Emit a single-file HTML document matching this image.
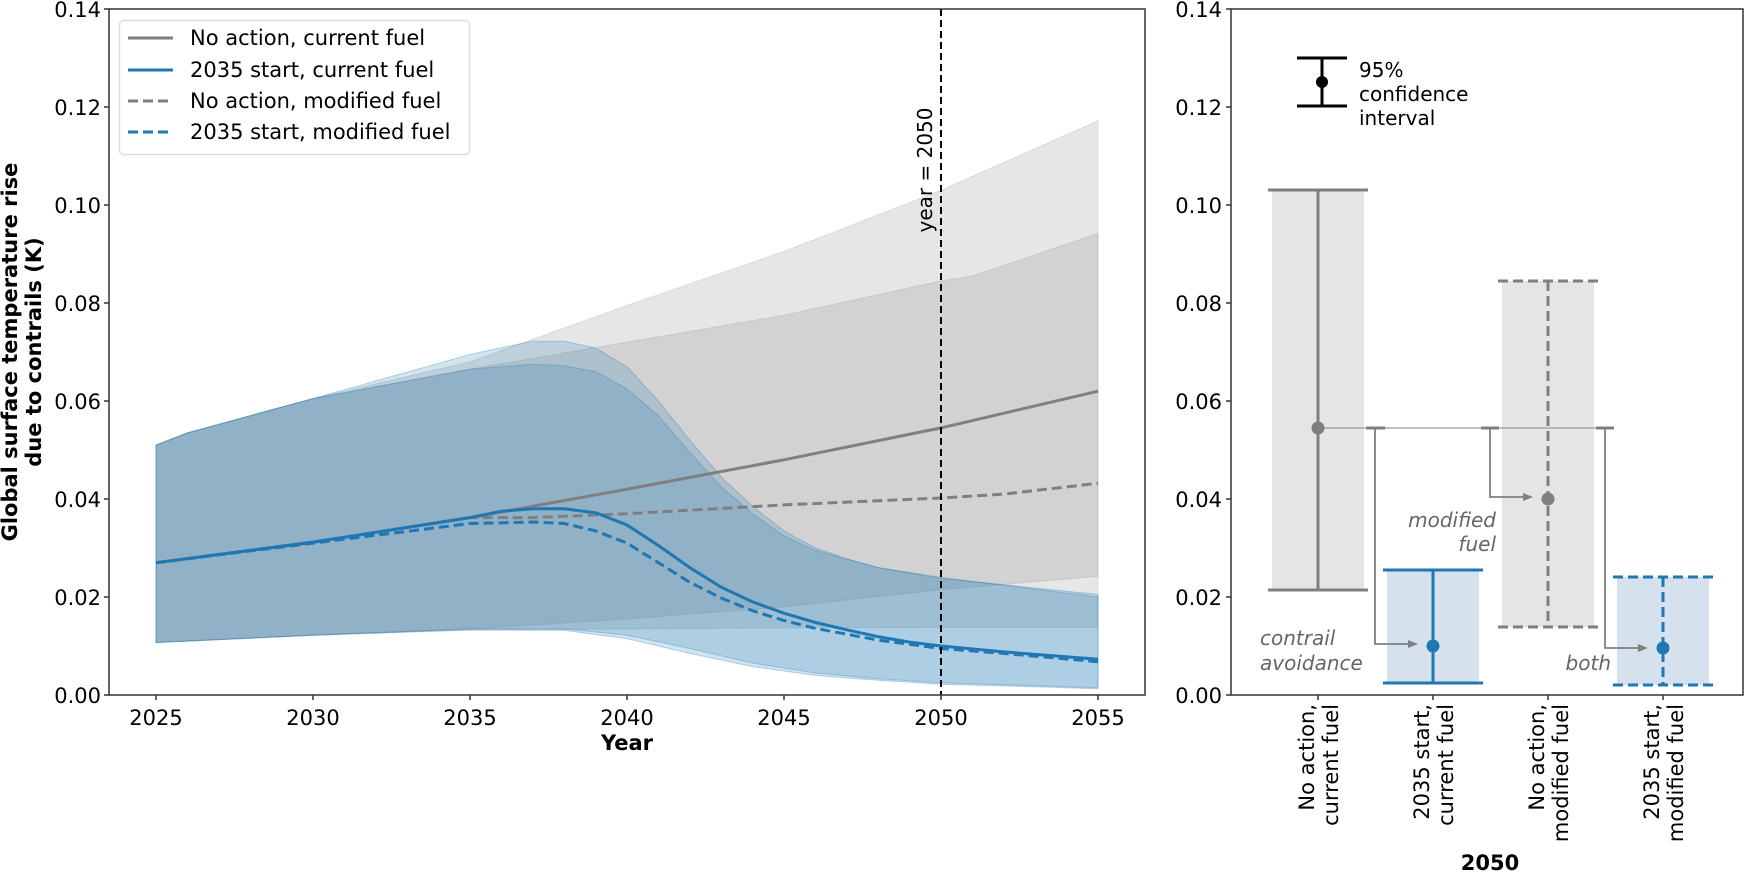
<!DOCTYPE html>
<html><head><meta charset="utf-8"><style>
html,body{margin:0;padding:0;background:#fff;}
svg{display:block;font-family:"DejaVu Sans","Liberation Sans",sans-serif;}
</style></head><body>
<svg id="s" width="1751" height="876" viewBox="0 0 1751 876" xmlns="http://www.w3.org/2000/svg">
<g id="fills"></g>
<g id="lines"></g>
<line x1="941" y1="9" x2="941" y2="695" stroke="#000" stroke-width="2" stroke-dasharray="7,4"/>
<text transform="translate(932,170) rotate(-90)" text-anchor="middle" font-size="20">year = 2050</text>
<rect x="109" y="9" width="1036" height="686" fill="none" stroke="#333" stroke-width="1.5"/>
<g id="lticks" stroke="#333" stroke-width="1.5"></g>
<g font-size="21" text-anchor="end">
<text x="101" y="17">0.14</text><text x="101" y="115">0.12</text><text x="101" y="213">0.10</text><text x="101" y="311">0.08</text><text x="101" y="409">0.06</text><text x="101" y="507">0.04</text><text x="101" y="605">0.02</text><text x="101" y="703">0.00</text>
</g>
<g font-size="21" text-anchor="middle">
<text x="156" y="725">2025</text><text x="313" y="725">2030</text><text x="470" y="725">2035</text><text x="627" y="725">2040</text><text x="784" y="725">2045</text><text x="941" y="725">2050</text><text x="1098" y="725">2055</text>
</g>
<text x="627" y="750" font-size="21" font-weight="bold" text-anchor="middle">Year</text>
<g font-size="21" font-weight="bold" text-anchor="middle">
<text transform="translate(17,352) rotate(-90)">Global surface temperature rise</text>
<text transform="translate(41,352) rotate(-90)">due to contrails (K)</text>
</g>
<!-- legend -->
<rect x="119.5" y="20.5" width="350" height="134" rx="4" fill="#fff" fill-opacity="0.8" stroke="#ddd" stroke-width="1.5"/>
<line x1="128" y1="38" x2="173" y2="38" stroke="#7f7f7f" stroke-width="3"/>
<line x1="128" y1="70" x2="173" y2="70" stroke="#1f77b4" stroke-width="3"/>
<line x1="128" y1="101" x2="173" y2="101" stroke="#7f7f7f" stroke-width="3" stroke-dasharray="10,5"/>
<line x1="128" y1="132" x2="173" y2="132" stroke="#1f77b4" stroke-width="3" stroke-dasharray="10,5"/>
<g font-size="21"><text x="190" y="45">No action, current fuel</text><text x="190" y="77">2035 start, current fuel</text><text x="190" y="108">No action, modified fuel</text><text x="190" y="139">2035 start, modified fuel</text></g>

<!-- right plot -->
<rect x="1272" y="190" width="92" height="400" fill="#e5e5e5"/>
<rect x="1387" y="570" width="92" height="113" fill="#d5e2ee"/>
<rect x="1502" y="281" width="92" height="346" fill="#e5e5e5"/>
<rect x="1617" y="577" width="92" height="108" fill="#d5e2ee"/>
<line x1="1318" y1="428" x2="1614" y2="428" stroke="#999" stroke-width="1.3"/>
<g stroke="#7f7f7f" stroke-width="3"><line x1="1318" y1="190" x2="1318" y2="590"/><line x1="1268" y1="190" x2="1368" y2="190"/><line x1="1268" y1="590" x2="1368" y2="590"/></g>
<circle cx="1318" cy="428" r="6.5" fill="#7f7f7f"/>
<g stroke="#1f77b4" stroke-width="3"><line x1="1433" y1="570" x2="1433" y2="683"/><line x1="1383" y1="570" x2="1483" y2="570"/><line x1="1383" y1="683" x2="1483" y2="683"/></g>
<circle cx="1433" cy="646" r="6.5" fill="#1f77b4"/>
<g stroke="#7f7f7f" stroke-width="3" stroke-dasharray="10,5"><line x1="1548" y1="281" x2="1548" y2="627"/><line x1="1498" y1="281" x2="1598" y2="281"/><line x1="1498" y1="627" x2="1598" y2="627"/></g>
<circle cx="1548" cy="499" r="6.5" fill="#7f7f7f"/>
<g stroke="#1f77b4" stroke-width="3" stroke-dasharray="10,5"><line x1="1663" y1="577" x2="1663" y2="685"/><line x1="1613" y1="577" x2="1713" y2="577"/><line x1="1613" y1="685" x2="1713" y2="685"/></g>
<circle cx="1663" cy="648" r="6.5" fill="#1f77b4"/>
<!-- brackets -->
<g stroke="#7f7f7f" fill="none" stroke-width="1.8">
<line x1="1366" y1="428" x2="1385" y2="428" stroke-width="3"/>
<polyline points="1375,428 1375,644 1415,644"/>
<line x1="1481" y1="428" x2="1499" y2="428" stroke-width="3"/>
<polyline points="1490,428 1490,497 1530,497"/>
<line x1="1596" y1="428" x2="1614" y2="428" stroke-width="3"/>
<polyline points="1605,428 1605,648 1645,648"/>
</g>
<g fill="#7f7f7f"><path d="M1418,644 l-10,-4 v8z"/><path d="M1533,497 l-10,-4 v8z"/><path d="M1648,648 l-10,-4 v8z"/></g>
<g font-size="20" font-style="italic" fill="#666">
<text x="1496" y="527" text-anchor="end">modified</text><text x="1496" y="551" text-anchor="end">fuel</text>
<text x="1260" y="645">contrail</text><text x="1260" y="670">avoidance</text>
<text x="1611" y="670" text-anchor="end">both</text>
</g>
<!-- ci legend -->
<g stroke="#000" stroke-width="3"><line x1="1322" y1="58" x2="1322" y2="106"/><line x1="1297" y1="58" x2="1347" y2="58"/><line x1="1297" y1="106" x2="1347" y2="106"/></g>
<circle cx="1322" cy="82" r="6" fill="#000"/>
<g font-size="20"><text x="1359" y="77">95%</text><text x="1359" y="101">confidence</text><text x="1359" y="125">interval</text></g>
<rect x="1231" y="9" width="512" height="686" fill="none" stroke="#333" stroke-width="1.5"/>
<g id="rticks" stroke="#333" stroke-width="1.5"></g>
<g font-size="21" text-anchor="end">
<text x="1222" y="17">0.14</text><text x="1222" y="115">0.12</text><text x="1222" y="213">0.10</text><text x="1222" y="311">0.08</text><text x="1222" y="409">0.06</text><text x="1222" y="507">0.04</text><text x="1222" y="605">0.02</text><text x="1222" y="703">0.00</text>
</g>
<g font-size="21" text-anchor="end">
<text transform="translate(1318,704) rotate(-90)"><tspan x="0" y="-4">No action,</tspan><tspan x="0" y="20">current fuel</tspan></text>
<text transform="translate(1433,704) rotate(-90)"><tspan x="0" y="-4">2035 start,</tspan><tspan x="0" y="20">current fuel</tspan></text>
<text transform="translate(1548,704) rotate(-90)"><tspan x="0" y="-4">No action,</tspan><tspan x="0" y="20">modified fuel</tspan></text>
<text transform="translate(1663,704) rotate(-90)"><tspan x="0" y="-4">2035 start,</tspan><tspan x="0" y="20">modified fuel</tspan></text>
</g>
<text x="1490" y="870" font-size="21" font-weight="bold" text-anchor="middle">2050</text>
</svg>
<script>
(function(){
var NS="http://www.w3.org/2000/svg";
function X(y){return 156+(y-2025)*31.4;}
function Y(v){return 695-v*4900;}
function interp(pts){var out=[];for(var i=0;i<pts.length-1;i++){var a=pts[i],b=pts[i+1];for(var t=a[0];t<b[0];t+=0.5){var f=(t-a[0])/(b[0]-a[0]);out.push([t,a[1]+f*(b[1]-a[1])]);}}out.push(pts[pts.length-1]);return out;}
function path(pts){return pts.map(function(p,i){return (i?"L":"M")+X(p[0]).toFixed(1)+","+Y(p[1]).toFixed(1);}).join("");}
function band(up,lo){var u=interp(up),l=interp(lo).reverse();return path(u)+l.map(function(p){return "L"+X(p[0]).toFixed(1)+","+Y(p[1]).toFixed(1);}).join("")+"Z";}
function add(g,d,attrs){var e=document.createElementNS(NS,"path");e.setAttribute("d",d);for(var k in attrs)e.setAttribute(k,attrs[k]);document.getElementById(g).appendChild(e);}
var gU=[[2025,0.051],[2026,0.0535],[2030,0.0605],[2035,0.068],[2040,0.0795],[2045,0.0905],[2050,0.103],[2055,0.1172]];
var gL=[[2025,0.0107],[2030,0.0122],[2035,0.0135],[2040,0.0155],[2045,0.018],[2050,0.0215],[2055,0.0242]];
var gmU=[[2025,0.051],[2026,0.0535],[2030,0.0605],[2035,0.0665],[2040,0.072],[2045,0.0775],[2050,0.0845],[2051,0.0855],[2055,0.0942]];
var gmL=[[2025,0.0107],[2030,0.0122],[2035,0.0132],[2040,0.0135],[2045,0.0137],[2050,0.0138],[2055,0.0138]];
var bU=[[2025,0.051],[2026,0.0535],[2030,0.0605],[2035,0.0695],[2037,0.0722],[2038,0.0722],[2039,0.0708],[2040,0.067],[2041,0.060],[2042,0.052],[2043,0.0445],[2044,0.0385],[2045,0.0335],[2046,0.030],[2047,0.0278],[2048,0.026],[2050,0.0238],[2052,0.0225],[2055,0.0205]];
var bL=[[2025,0.0107],[2030,0.0122],[2035,0.0135],[2038,0.0135],[2040,0.0122],[2042,0.0095],[2044,0.0065],[2046,0.0045],[2048,0.0033],[2050,0.0025],[2055,0.0015]];
var bmU=[[2025,0.051],[2026,0.0535],[2030,0.0605],[2035,0.0665],[2037,0.0675],[2038,0.0672],[2039,0.066],[2040,0.0625],[2041,0.057],[2042,0.0495],[2043,0.0425],[2044,0.037],[2045,0.0325],[2046,0.0295],[2048,0.026],[2050,0.024],[2055,0.020]];
var bmL=[[2025,0.0107],[2030,0.0122],[2035,0.0133],[2038,0.0132],[2040,0.0115],[2042,0.0085],[2044,0.0058],[2046,0.004],[2048,0.003],[2050,0.0022],[2055,0.0013]];
add("fills",band(gU,gL),{fill:"#808080","fill-opacity":"0.2",stroke:"#808080","stroke-opacity":"0.2"});
add("fills",band(gmU,gmL),{fill:"#808080","fill-opacity":"0.2",stroke:"#808080","stroke-opacity":"0.2"});
add("fills",band(bU,bL),{fill:"#1f77b4","fill-opacity":"0.2",stroke:"#1f77b4","stroke-opacity":"0.3"});
add("fills",band(bmU,bmL),{fill:"#1f77b4","fill-opacity":"0.2",stroke:"#1f77b4","stroke-opacity":"0.3"});
var base=[[2025,0.027],[2030,0.0312],[2035,0.0362]];
var g=base.concat([[2040,0.042],[2045,0.048],[2050,0.0545],[2055,0.062]]);
var gm=base.concat([[2037,0.0362],[2040,0.037],[2045,0.0388],[2050,0.0402],[2052,0.041],[2055,0.0432]]);
var b=base.concat([[2036,0.0375],[2037,0.038],[2038,0.038],[2039,0.0372],[2040,0.0347],[2041,0.0305],[2042,0.026],[2043,0.022],[2044,0.019],[2045,0.0167],[2046,0.0148],[2047,0.0133],[2048,0.0119],[2049,0.0108],[2050,0.0100],[2052,0.0088],[2055,0.0073]]);
var bm=[[2025,0.027],[2030,0.031],[2035,0.035],[2037,0.0353],[2038,0.035],[2039,0.0335],[2040,0.031],[2041,0.027],[2042,0.023],[2043,0.0198],[2044,0.0172],[2045,0.0152],[2046,0.0136],[2048,0.0112],[2050,0.0095],[2052,0.0085],[2055,0.0068]];
add("lines",path(g),{fill:"none",stroke:"#7f7f7f","stroke-width":"3"});
add("lines",path(gm),{fill:"none",stroke:"#7f7f7f","stroke-width":"3","stroke-dasharray":"10,5"});
add("lines",path(b),{fill:"none",stroke:"#1f77b4","stroke-width":"3"});
add("lines",path(bm),{fill:"none",stroke:"#1f77b4","stroke-width":"3","stroke-dasharray":"10,5"});
var lt=document.getElementById("lticks"),rt=document.getElementById("rticks");
function ln(p,x1,y1,x2,y2){var e=document.createElementNS(NS,"line");e.setAttribute("x1",x1);e.setAttribute("y1",y1);e.setAttribute("x2",x2);e.setAttribute("y2",y2);p.appendChild(e);}
for(var i=0;i<=7;i++){var y=695-i*98;ln(lt,104,y,109,y);ln(rt,1226,y,1231,y);}
for(var yr=2025;yr<=2055;yr+=5){ln(lt,X(yr),695,X(yr),700);}
[1318,1433,1548,1663].forEach(function(x){ln(rt,x,695,x,700);});
})();
</script>
</body></html>
